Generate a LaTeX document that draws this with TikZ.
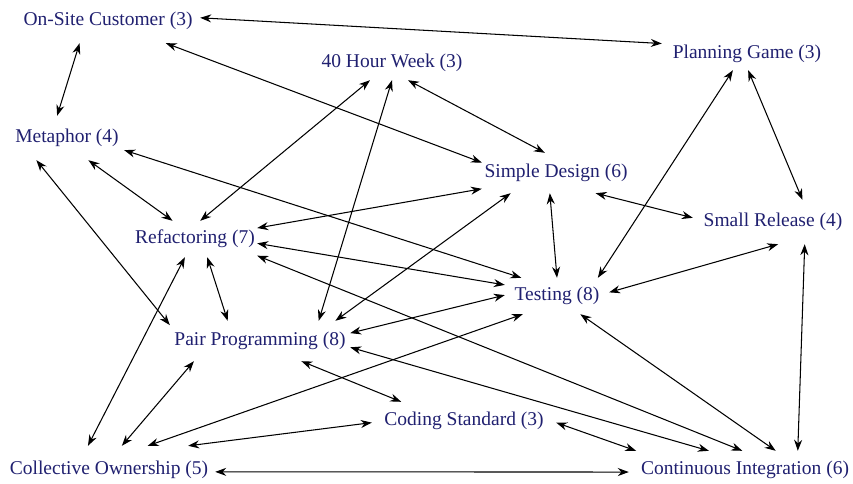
\documentclass[tikz,border=0pt]{standalone}
\usepackage{fontspec}
\setmainfont{Liberation Serif}
\usetikzlibrary{arrows.meta}
\definecolor{labelblue}{RGB}{32,32,112}

\begin{document}
\begin{tikzpicture}[
      x=1pt,y=-1pt,
      font=\fontsize{19.5}{22}\selectfont,
      practice/.style={text=labelblue,inner sep=0pt},
      arr/.style={{Stealth[length=11pt,width=8pt]}-{Stealth[length=11pt,width=8pt]},
                  line width=1.05pt}]
    \path[use as bounding box,fill=white] (0,0) rectangle (853,483);
    % practices, each with its number of links
    \node[practice,minimum width=184pt,minimum height=44pt] (osc) at (108,21) {On-Site Customer (3)};
    \node[practice,minimum width=170pt,minimum height=32pt] (pg) at (747,54) {Planning Game (3)};
    \node[practice,minimum width=134pt,minimum height=34pt] (week) at (392,63) {40 Hour Week (3)};
    \node[practice,minimum width=114pt,minimum height=44pt] (meta) at (67,138) {Metaphor (4)};
    \node[practice,minimum width=148pt,minimum height=40pt] (sd) at (556,173) {Simple Design (6)};
    \node[practice,minimum width=160pt,minimum height=44pt] (sr) at (773,222) {Small Release (4)};
    \node[practice,minimum width=124pt,minimum height=36pt] (refac) at (195,239) {Refactoring (7)};
    \node[practice,minimum width=104pt,minimum height=36pt] (test) at (557,296) {Testing (8)};
    \node[practice,minimum width=180pt,minimum height=40pt] (pair) at (260,341) {Pair Programming (8)};
    \node[practice,minimum width=184pt,minimum height=38pt] (cs) at (464,421) {Coding Standard (3)};
    \node[practice,minimum width=212pt,minimum height=48pt] (co) at (109,470) {Collective Ownership (5)};
    \node[practice,minimum width=232pt,minimum height=38pt] (ci) at (745,470) {Continuous Integration (6)};
    % links between practices
    \draw[arr] (osc.2)--(pg.173);
    \draw[arr] (osc.339)--(sd.172);
    \draw[arr] (osc.218)--(meta.114);
    \draw[arr] (pg.274)--(sr.37);
    \draw[arr] (pg.229)--(test.24);
    \draw[arr] (week.218)--(refac.74);
    \draw[arr] (week.270)--(pair.19);
    \draw[arr] (week.313)--(sd.119);
    \draw[arr] (meta.314)--(refac.141);
    \draw[arr] (meta.348)--(test.153);
    \draw[arr] (meta.216)--(pair.170);
    \draw[arr] (refac.10)--(sd.192);
    \draw[arr] (refac.356)--(test.168);
    \draw[arr] (refac.345)--(ci.98);
    \draw[arr] (refac.241)--(co.131);
    \draw[arr] (refac.304)--(pair.148);
    \draw[arr] (pair.15)--(sd.204);
    \draw[arr] (pair.5)--(test.179);
    \draw[arr] (pair.356)--(ci.152);
    \draw[arr] (pair.334)--(cs.163);
    \draw[arr] (pair.197)--(co.62);
    \draw[arr] (sd.253)--(test.90);
    \draw[arr] (sd.333)--(sr.177);
    \draw[arr] (sr.283)--(test.4);
    \draw[arr] (sr.325)--(ci.20);
    \draw[arr] (test.208)--(co.32);
    \draw[arr] (test.322)--(ci.32);
    \draw[arr] (cs.181)--(co.17);
    \draw[arr] (cs.359)--(ci.170);
    \draw[arr] (co.359)--(ci.181);
\end{tikzpicture}
\end{document}
